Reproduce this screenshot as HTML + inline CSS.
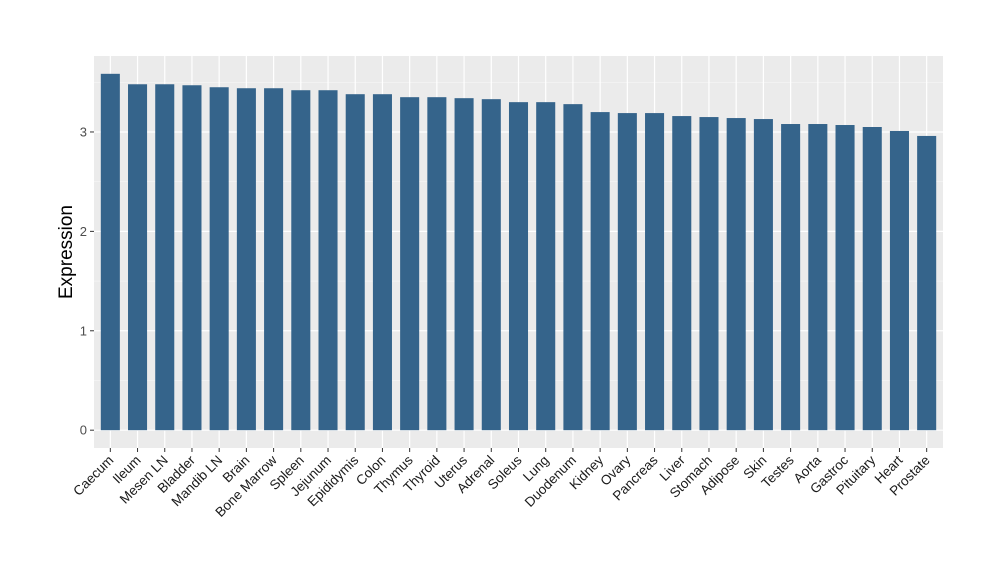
<!DOCTYPE html>
<html><head><meta charset="utf-8"><style>body{margin:0;background:#fff}svg{display:block;font-family:"Liberation Sans",sans-serif}</style></head>
<body>
<svg id="chart" width="1000" height="580" xmlns="http://www.w3.org/2000/svg">
<rect x="94" y="56" width="849" height="392" fill="#ebebeb"/>
<g id="grid"></g><g id="bars"></g><g id="axes"></g>
<text x="72" y="252" font-size="19" text-anchor="middle" transform="rotate(-90,72,252)">Expression</text>
</svg>
<script>
const categories=["Caecum","Ileum","Mesen LN","Bladder","Mandib LN","Brain","Bone Marrow","Spleen","Jejunum","Epididymis","Colon","Thymus","Thyroid","Uterus","Adrenal","Soleus","Lung","Duodenum","Kidney","Ovary","Pancreas","Liver","Stomach","Adipose","Skin","Testes","Aorta","Gastroc","Pituitary","Heart","Prostate"];
const values=[3.585,3.48,3.48,3.47,3.45,3.44,3.44,3.42,3.42,3.38,3.38,3.35,3.35,3.34,3.33,3.30,3.30,3.28,3.20,3.19,3.19,3.16,3.15,3.14,3.13,3.08,3.08,3.07,3.05,3.01,2.96];
const yTicks=[0,1,2,3];
const NS="http://www.w3.org/2000/svg";
const x0=94,x1=943,yTop=56,yBot=448;
const n=categories.length;
const ymax=Math.max(...values),ext=ymax*0.05;
const ylo=-ext,yhi=ymax+ext;
const y=v=>yBot-(v-ylo)/(yhi-ylo)*(yBot-yTop);
const band=(x1-x0)/(n-1+1.2);
const x=i=>x0+(i+0.6)*band;
function mk(tag,attrs,parent){const e=document.createElementNS(NS,tag);for(const k in attrs)e.setAttribute(k,attrs[k]);parent.appendChild(e);return e;}
const grid=document.getElementById('grid'),bars=document.getElementById('bars'),axes=document.getElementById('axes');
for(let t=0;t<yTicks.length;t++){
  const v=yTicks[t];
  const l=mk('line',{x1:x0,x2:x1,y1:y(v),y2:y(v),stroke:'#fff','stroke-width':1.2},grid);
  
  
  const m=mk('line',{x1:x0,x2:x1,y1:y(v+0.5),y2:y(v+0.5),stroke:'#f7f7f7','stroke-width':0.6},grid);
  
  
  const tk=mk('line',{x1:x0-4,x2:x0,y1:y(v),y2:y(v),stroke:'#333'},axes);
  
  
  const tx=mk('text',{x:x0-7,y:y(v)+4.5,'font-size':13,'text-anchor':'end',fill:'#4d4d4d'},axes);
  tx.textContent=v;
  
  
}
const bw=band*0.7;
categories.forEach((c,i)=>{
  const cx=x(i);
  const g=mk('line',{x1:cx,x2:cx,y1:yTop,y2:yBot,stroke:'#fff','stroke-width':1.2},grid);
  
  
  const r=mk('rect',{x:cx-bw/2,y:y(values[i]),width:bw,height:y(0)-y(values[i]),fill:'#35648b'},bars);
  
  
  const tk=mk('line',{x1:cx,x2:cx,y1:yBot,y2:yBot+4,stroke:'#333'},axes);
  
  
  const tx=mk('text',{x:cx+4,y:yBot+13,'font-size':13.5,'text-anchor':'end',fill:'#1a1a1a',transform:`rotate(-45,${cx+4},${yBot+13})`},axes);
  tx.textContent=c;
  
  
});
</script>
</body></html>
